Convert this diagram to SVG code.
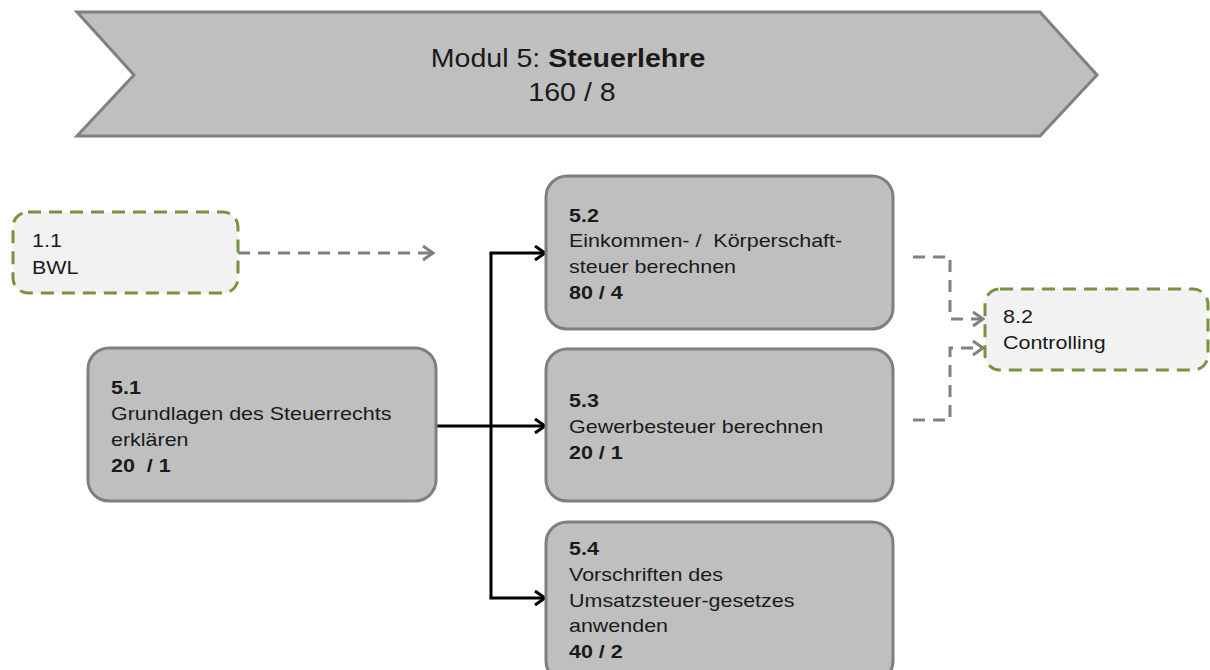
<svg xmlns="http://www.w3.org/2000/svg" width="1210" height="670" viewBox="0 0 1210 670">
  <style>
    .title { font-family: "Liberation Sans", Arial, sans-serif; font-size: 25.5px; fill: #1a1a1a; }
    .lbl { font-family: "Liberation Sans", Arial, sans-serif; font-size: 19px; fill: #1a1a1a; }
    .b { font-weight: bold; }
    .unit { fill: #bfbfbf; stroke: #7f7f7f; stroke-width: 3; }
    .ext { fill: #f2f2f2; stroke: #77933c; stroke-width: 3; stroke-dasharray: 13 8; }
    .flow { fill: none; stroke: #000000; stroke-width: 3; }
    .dep { fill: none; stroke: #808080; stroke-width: 3; stroke-dasharray: 12 8; }
  </style>
  <defs>
    <marker id="arrBlack" markerUnits="userSpaceOnUse" markerWidth="16" markerHeight="18" refX="13" refY="8" orient="auto">
      <path d="M3,1 L13,8 L3,15" fill="none" stroke="#000000" stroke-width="3"/>
    </marker>
    <marker id="arrGray" markerUnits="userSpaceOnUse" markerWidth="16" markerHeight="18" refX="13" refY="8" orient="auto">
      <path d="M3,1 L13,8 L3,15" fill="none" stroke="#808080" stroke-width="3"/>
    </marker>
  </defs>

  <rect width="1210" height="670" fill="#ffffff"/>

  <!-- module header chevron -->
  <g id="modul5">
    <polygon points="77,12 1040,12 1097,75 1040,136 77,136 134,75" fill="#bfbfbf" stroke="#808080" stroke-width="3"/>
    <text class="title" text-anchor="middle" transform="translate(572 0) scale(1.12 1)">
      <tspan x="0" y="67">Modul 5: <tspan class="b">Steuerlehre</tspan></tspan>
      <tspan x="0" y="101">160 / 8</tspan>
    </text>
  </g>

  <!-- connectors -->
  <g id="connectors">
    <path class="dep" d="M238,253 H433" marker-end="url(#arrGray)"/>
    <path class="flow" d="M436,426 H545" marker-end="url(#arrBlack)"/>
    <path class="flow" d="M491,253 V598"/>
    <path class="flow" d="M489.5,253 H545" marker-end="url(#arrBlack)"/>
    <path class="flow" d="M489.5,598 H545" marker-end="url(#arrBlack)"/>
    <path class="dep" d="M913,257 H950 V319 H983" marker-end="url(#arrGray)"/>
    <path class="dep" d="M913,420 H950 V348 H983" marker-end="url(#arrGray)"/>
  </g>

  <g id="n11">
    <rect class="ext" x="13" y="212" width="225" height="81" rx="15"/>
    <text class="lbl" transform="translate(32 0) scale(1.13 1)">
      <tspan x="0" y="247">1.1</tspan>
      <tspan x="0" y="274">BWL</tspan>
    </text>
  </g>

  <g id="n51">
    <rect class="unit" x="88" y="348" width="348" height="153" rx="21"/>
    <text class="lbl" transform="translate(111 0) scale(1.13 1)">
      <tspan x="0" y="394" class="b">5.1</tspan>
      <tspan x="0" y="420">Grundlagen des Steuerrechts</tspan>
      <tspan x="0" y="446">erklären</tspan>
      <tspan x="0" y="472" class="b" xml:space="preserve">20  / 1</tspan>
    </text>
  </g>

  <g id="n52">
    <rect class="unit" x="546" y="176" width="347" height="153" rx="21"/>
    <text class="lbl" transform="translate(569 0) scale(1.13 1)">
      <tspan x="0" y="222" class="b">5.2</tspan>
      <tspan x="0" y="247" xml:space="preserve">Einkommen- /  Körperschaft-</tspan>
      <tspan x="0" y="273">steuer berechnen</tspan>
      <tspan x="0" y="299" class="b">80 / 4</tspan>
    </text>
  </g>

  <g id="n53">
    <rect class="unit" x="546" y="349" width="347" height="152" rx="21"/>
    <text class="lbl" transform="translate(569 0) scale(1.13 1)">
      <tspan x="0" y="407" class="b">5.3</tspan>
      <tspan x="0" y="433">Gewerbesteuer berechnen</tspan>
      <tspan x="0" y="459" class="b">20 / 1</tspan>
    </text>
  </g>

  <g id="n54">
    <rect class="unit" x="546" y="522" width="347" height="160" rx="21"/>
    <text class="lbl" transform="translate(569 0) scale(1.13 1)">
      <tspan x="0" y="555" class="b">5.4</tspan>
      <tspan x="0" y="581">Vorschriften des</tspan>
      <tspan x="0" y="607">Umsatzsteuer-gesetzes</tspan>
      <tspan x="0" y="632">anwenden</tspan>
      <tspan x="0" y="658" class="b">40 / 2</tspan>
    </text>
  </g>

  <g id="n82">
    <rect class="ext" x="985" y="289" width="223" height="81" rx="15"/>
    <text class="lbl" transform="translate(1003 0) scale(1.13 1)">
      <tspan x="0" y="323">8.2</tspan>
      <tspan x="0" y="349">Controlling</tspan>
    </text>
  </g>
</svg>
